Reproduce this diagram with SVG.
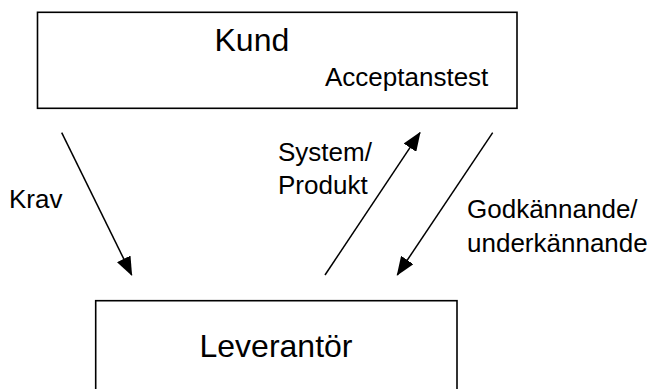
<svg xmlns="http://www.w3.org/2000/svg" width="647" height="389" viewBox="0 0 647 389">
<style>
.box{fill:#fff;stroke:#000;stroke-width:1.6}
.t{font-family:"Liberation Sans",Arial,sans-serif;fill:#000}
.big{font-size:32px}
.lbl{font-size:26px}
.edge{stroke:#000;stroke-width:1.5;fill:none;marker-end:url(#ah)}
</style>
<defs>
<marker id="ah" markerUnits="userSpaceOnUse" markerWidth="19" markerHeight="15" refX="18" refY="7.5" orient="auto">
<path d="M0,0 L19,7.5 L0,15 z" fill="#000"/>
</marker>
</defs>
<rect width="647" height="389" fill="#fff"/>
<g id="kund">
<rect class="box" x="37.5" y="12.3" width="479.5" height="96"/>
<text class="t big" x="214.5" y="50.5">Kund</text>
<text class="t lbl" x="325" y="86">Acceptanstest</text>
</g>
<g id="leverantor">
<rect class="box" x="95.7" y="300.7" width="361.3" height="100"/>
<text class="t big" x="199.5" y="357.3">Leverantör</text>
</g>
<g id="connectors">
<line class="edge" x1="61.7" y1="132.7" x2="131.7" y2="275"/>
<line class="edge" x1="325" y1="275" x2="420" y2="132.7"/>
<line class="edge" x1="492.7" y1="132.7" x2="397.3" y2="275"/>
</g>
<g id="labels">
<text class="t lbl" x="9" y="208.3">Krav</text>
<text class="t lbl" x="278" y="160.7">System/</text>
<text class="t lbl" x="278" y="194">Produkt</text>
<text class="t lbl" x="467" y="218.3">Godkännande/</text>
<text class="t lbl" x="467" y="251.7">underkännande</text>
</g>
</svg>
